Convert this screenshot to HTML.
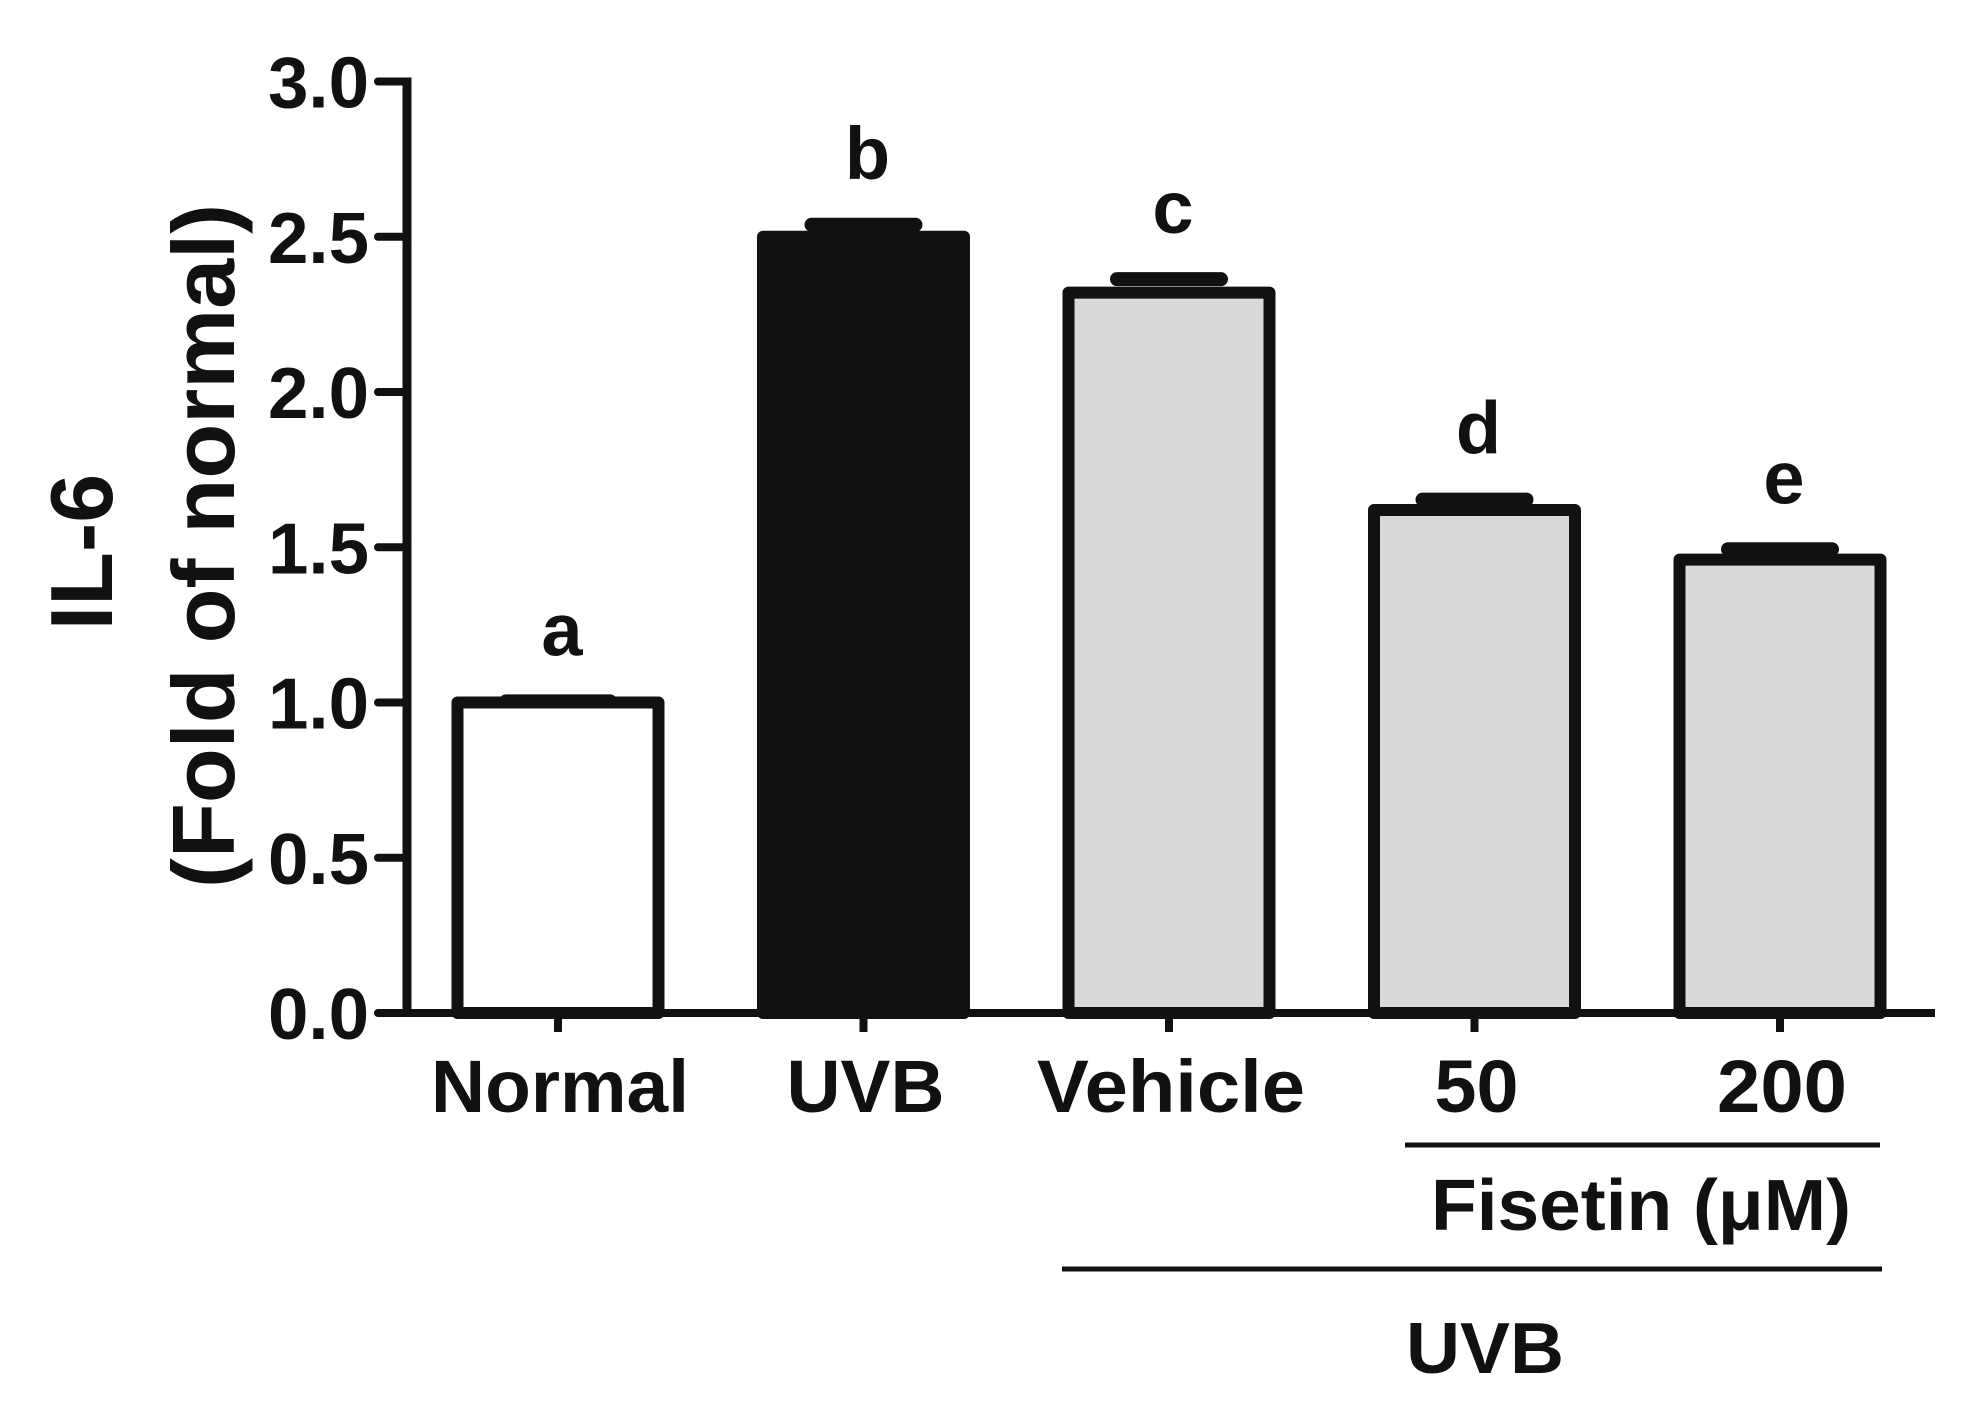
<!DOCTYPE html>
<html><head><meta charset="utf-8"><style>
html,body{margin:0;padding:0;background:#fff;}
svg{display:block;font-family:"Liberation Sans",Arial,sans-serif;font-weight:bold;}
</style></head><body>
<svg id="chart" width="1981" height="1424" viewBox="0 0 1981 1424" xmlns="http://www.w3.org/2000/svg">
<g id="plot"></g>
<text transform="translate(112,552) rotate(-90)" text-anchor="middle" font-size="88" fill="#111">IL-6</text>
<text transform="translate(234,546) rotate(-90)" text-anchor="middle" font-size="88" fill="#111" textLength="684" lengthAdjust="spacingAndGlyphs">(Fold of normal)</text>
<line x1="1405" y1="1145" x2="1880" y2="1145" stroke="#111" stroke-width="5"/>
<text x="1641" y="1230" text-anchor="middle" font-size="72" fill="#111" textLength="420" lengthAdjust="spacingAndGlyphs">Fisetin (μM)</text>
<line x1="1062" y1="1269" x2="1882" y2="1269" stroke="#111" stroke-width="5"/>
<text x="1485" y="1373" text-anchor="middle" font-size="72" fill="#111" textLength="158" lengthAdjust="spacingAndGlyphs">UVB</text>
</svg>
<script>
const categories = ["Normal","UVB","Vehicle","50","200"];
const means = [1.0, 2.50, 2.32, 1.62, 1.46];
const errors = [0.01, 0.045, 0.05, 0.04, 0.04];
const sigLetters = ["a","b","c","d","e"];
const fills = ["#ffffff","#111111","#d9d9d9","#d9d9d9","#d9d9d9"];
const yTicks = [0, 0.5, 1.0, 1.5, 2.0, 2.5, 3.0];
const yTickLabels = ["0.0","0.5","1.0","1.5","2.0","2.5","3.0"];
const labelWidths = [258, 158, 268, 84, 130];

const NS = "http://www.w3.org/2000/svg";
const g = document.getElementById('plot');
const Y0 = 1013, UNIT = 310.5, AX = 407;
function y(v){ return Y0 - v*UNIT; }
function x(i){ return 558 + i*305.5; }
const BW = 201;
function mk(tag, attrs){ const e = document.createElementNS(NS, tag); for (const k in attrs) e.setAttribute(k, attrs[k]); g.appendChild(e); return e; }

categories.forEach((c,i)=>{
  const cx = x(i);
  const cap = mk('line',{x1:cx-52,x2:cx+52,y1:y(means[i]+errors[i])+2,y2:y(means[i]+errors[i])+2,stroke:'#111','stroke-width':14,'stroke-linecap':'round'});
  
  
  const r = mk('rect',{x:cx-BW/2,y:y(means[i]),width:BW,height:y(0)-y(means[i]),fill:fills[i],stroke:'#111','stroke-width':12,'stroke-linejoin':'round'});
  
  
  const t = mk('text',{x:cx+4,y:y(means[i]+errors[i])-44,'text-anchor':'middle','font-size':74,fill:'#111'});
  t.textContent = sigLetters[i];
  
  
  const tk = mk('line',{x1:cx,x2:cx,y1:y(0),y2:1032,stroke:'#111','stroke-width':8});
  
  
  const lb = mk('text',{x:cx+2,y:1112,'text-anchor':'middle','font-size':74,fill:'#111',textLength:labelWidths[i],lengthAdjust:'spacingAndGlyphs'});
  lb.textContent = c;
  
  
});

const xa = mk('line',{x1:378,x2:1935,y1:Y0,y2:Y0,stroke:'#111','stroke-width':8});


const ya = mk('line',{x1:AX,x2:AX,y1:y(3)-4,y2:Y0+4,stroke:'#111','stroke-width':9});


yTicks.forEach((v,i)=>{
  const t = mk('line',{x1:378,x2:AX,y1:y(v),y2:y(v),stroke:'#111','stroke-width':8,'stroke-linecap':'round'});
  
  
  const l = mk('text',{x:369,y:y(v)+26,'text-anchor':'end','font-size':72,fill:'#111',textLength:101,lengthAdjust:'spacingAndGlyphs'});
  l.textContent = yTickLabels[i];
  
  
});
</script>
</body></html>
